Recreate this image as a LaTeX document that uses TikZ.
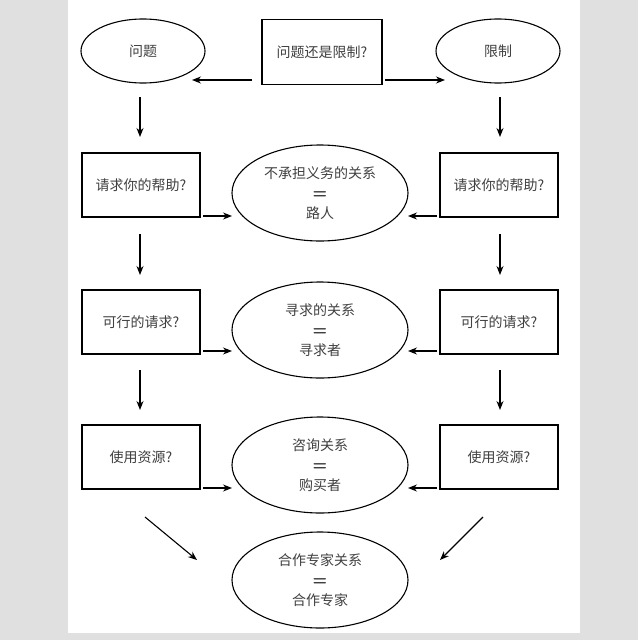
\documentclass[tikz,border=0pt]{standalone}
\usepackage{fontspec}
\newfontfamily\cjk{Noto Sans CJK SC}
\usetikzlibrary{shapes.geometric,arrows.meta,positioning}

\tikzset{
  box/.style={draw, line width=1.1pt, minimum width=118pt, minimum height=64pt, font=\cjk\fontsize{14}{16}\selectfont, text=black!75},
  oval/.style={draw, line width=1.1pt, ellipse, minimum width=124pt, minimum height=64pt, font=\cjk\fontsize{14}{16}\selectfont, text=black!75},
  big/.style={draw, line width=1.1pt, ellipse, minimum width=176pt, minimum height=96pt, align=center, font=\cjk\fontsize{14}{20}\selectfont, text=black!75},
  arr/.style={-{Stealth[length=9pt,width=7pt]}, line width=1.1pt}
}
\newcommand{\eqline}{{\sffamily\bfseries\fontsize{17}{20}\selectfont =}}

\begin{document}
\begin{tikzpicture}[x=1pt, y=-1pt]
    \fill[black!12] (0,0) rectangle (638,640);
    \fill[white] (68,0) rectangle (580,633);
    \useasboundingbox (0,0) rectangle (638,640);

    % top row
    \node[oval]   (prob)  at (143,51)  {问题};
    \node[box, minimum width=120pt, minimum height=65pt] (ask) at (322,52) {问题还是限制?};
    \node[oval]   (lim)   at (498,51)  {限制};

    % left column
    \node[box]    (helpL) at (141,185) {请求你的帮助?};
    \node[box]    (reqL)  at (141,322) {可行的请求?};
    \node[box]    (useL)  at (141,457) {使用资源?};

    % right column
    \node[box]    (helpR) at (499,185) {请求你的帮助?};
    \node[box]    (reqR)  at (499,322) {可行的请求?};
    \node[box]    (useR)  at (499,457) {使用资源?};

    % middle column
    \node[big]    (pass)  at (320,193) {不承担义务的关系\\\eqline\\路人};
    \node[big]    (seek)  at (320,330) {寻求的关系\\\eqline\\寻求者};
    \node[big]    (buy)   at (320,465) {咨询关系\\\eqline\\购买者};
    \node[big]    (part)  at (320,580) {合作专家关系\\\eqline\\合作专家};

    \coordinate (a1) at (252,80);  \coordinate (a2) at (192,80);
    \coordinate (b1) at (385,80);  \coordinate (b2) at (445,80);
    \coordinate (dl1) at (145,517); \coordinate (dl2) at (197,560);
    \coordinate (dr1) at (483,517); \coordinate (dr2) at (440,560);

    \draw[arr] (a1) -- (a2);
    \draw[arr] (b1) -- (b2);
    \draw[arr] (140,97) -- (140,137);
    \draw[arr] (500,97) -- (500,137);
    \draw[arr] (140,234) -- (140,275);
    \draw[arr] (500,234) -- (500,275);
    \draw[arr] (140,370) -- (140,410);
    \draw[arr] (500,370) -- (500,410);

    \draw[arr] (203,216) -- (232,216);
    \draw[arr] (437,216) -- (408,216);
    \draw[arr] (203,351) -- (232,351);
    \draw[arr] (437,351) -- (408,351);
    \draw[arr] (203,488) -- (232,488);
    \draw[arr] (437,488) -- (408,488);

    \draw[arr] (dl1) -- (dl2);
    \draw[arr] (dr1) -- (dr2);
\end{tikzpicture}
\end{document}
